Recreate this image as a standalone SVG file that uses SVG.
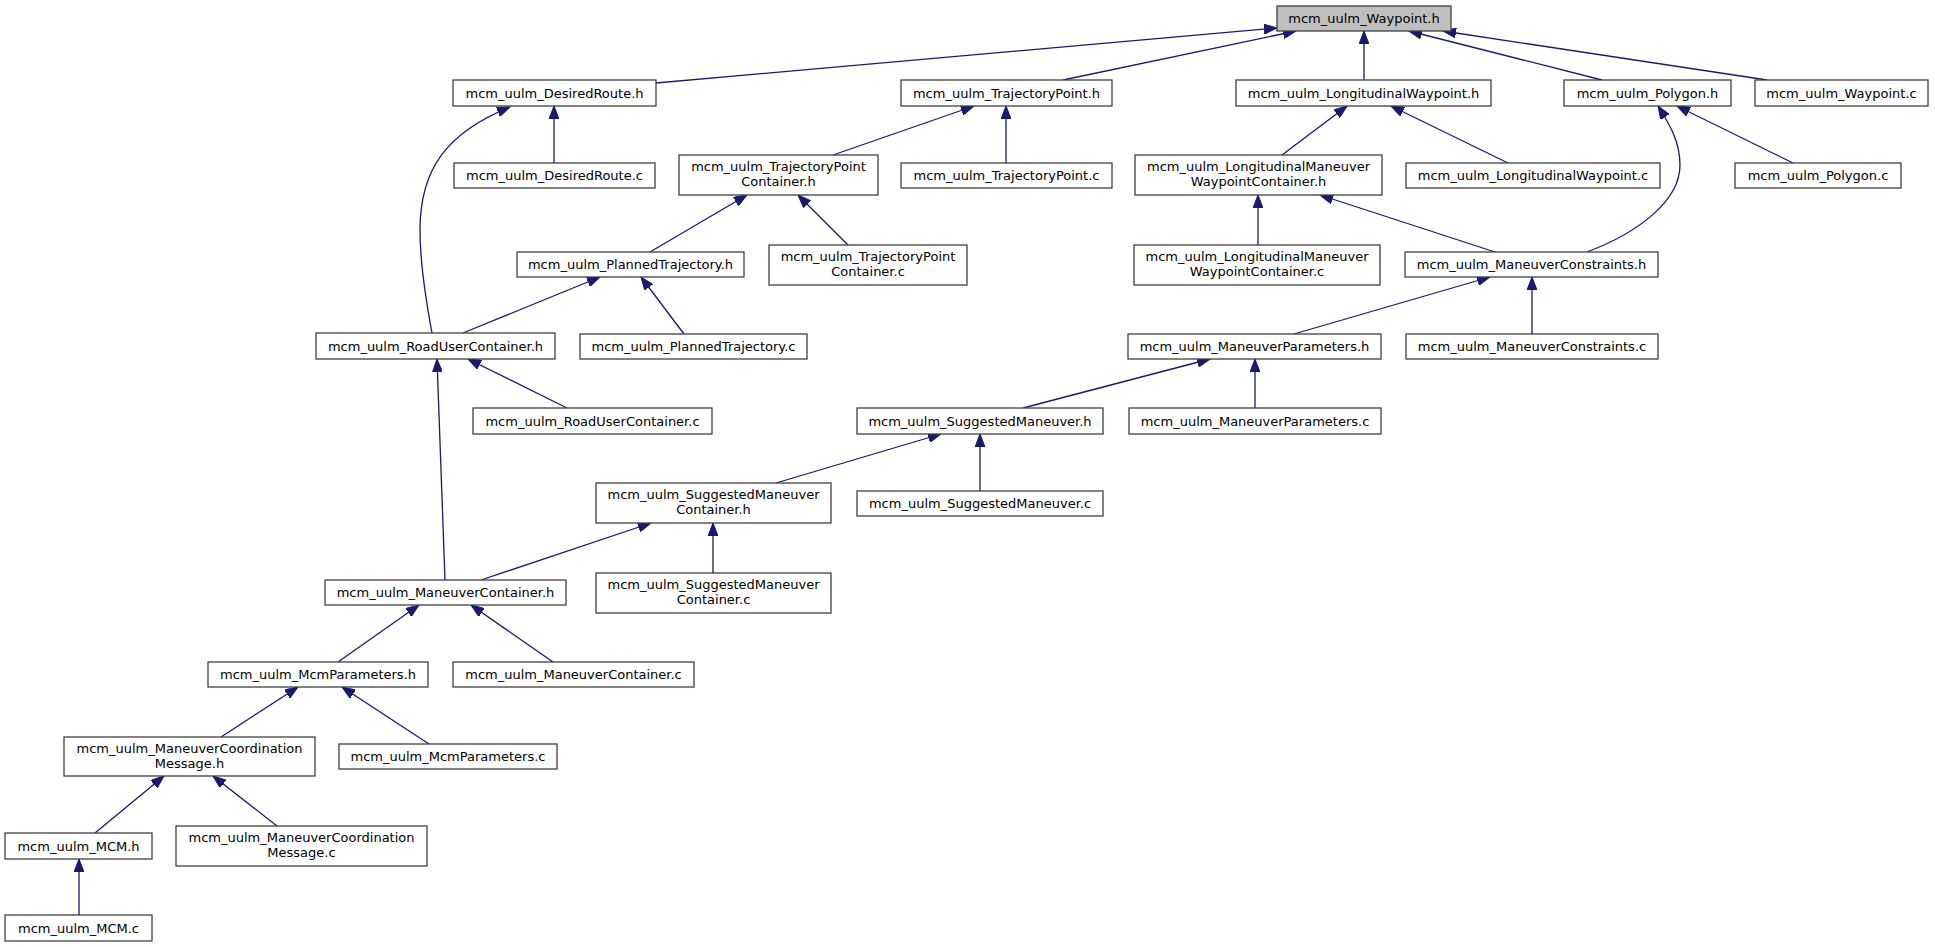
<svg xmlns="http://www.w3.org/2000/svg" width="1935" height="947" viewBox="0 0 1935 947">
<style>
.n rect{fill:#ffffff;stroke:#404040;stroke-width:1.3}
.n.r rect{fill:#bfbfbf;stroke:#404040}
.n text{font-family:"DejaVu Sans",sans-serif;font-size:13px;text-anchor:middle;fill:#000000}
.e path{fill:none;stroke:#191970;stroke-width:1.3;marker-end:url(#a)}
</style>
<defs>
<marker id="a" markerUnits="userSpaceOnUse" markerWidth="14" markerHeight="10" refX="13" refY="5" orient="auto">
<path d="M0,0 L13,5 L0,10 z" fill="#191970" stroke="#191970" stroke-width="1"/>
</marker>
</defs>
<rect width="1935" height="947" fill="#ffffff"/>
<g class="e" id="edges">
<path d="M656,83 L1277,28"/>
<path d="M1063,80 L1296,31"/>
<path d="M1364,80 L1364,31"/>
<path d="M1602,80 L1409,31"/>
<path d="M1767,80 L1443,31"/>
<path d="M554,163 L554,106"/>
<path d="M432,333 C424,290 420,260 420,230 C420,168 448,132 510,107"/>
<path d="M833,155 L974,106"/>
<path d="M1006,163 L1006,106"/>
<path d="M1282,155 L1347,106"/>
<path d="M1508,163 L1391,106"/>
<path d="M1587,252 C1640,232 1680,200 1680,165 C1680,142 1670,125 1658,106"/>
<path d="M1793,163 L1677,106"/>
<path d="M650,252 L747,195"/>
<path d="M848,245 L798,195"/>
<path d="M1258,245 L1258,195"/>
<path d="M1495,252 L1320,195"/>
<path d="M463,333 L600,277"/>
<path d="M684,334 L641,277"/>
<path d="M1294,334 L1490,277"/>
<path d="M1532,334 L1532,277"/>
<path d="M567,408 L468,359"/>
<path d="M445,580 L437,359"/>
<path d="M1023,408 L1210,359"/>
<path d="M1255,408 L1255,359"/>
<path d="M776,483 L941,434"/>
<path d="M980,491 L980,434"/>
<path d="M481,580 L651,523"/>
<path d="M713,573 L713,523"/>
<path d="M338,662 L419,605"/>
<path d="M553,662 L471,605"/>
<path d="M221,737 L298,687"/>
<path d="M429,744 L342,687"/>
<path d="M95,833 L164,776"/>
<path d="M277,826 L213,776"/>
<path d="M79,915 L79,859"/>
</g>
<g class="n r" id="n1"><rect x="1277" y="6" width="174" height="25"/><text x="1364" y="23">mcm_uulm_Waypoint.h</text></g>
<g class="n" id="n2"><rect x="453" y="80" width="203" height="26"/><text x="554.5" y="97.5">mcm_uulm_DesiredRoute.h</text></g>
<g class="n" id="n3"><rect x="901" y="80" width="211" height="26"/><text x="1006.5" y="97.5">mcm_uulm_TrajectoryPoint.h</text></g>
<g class="n" id="n4"><rect x="1236" y="80" width="255" height="26"/><text x="1363.5" y="97.5">mcm_uulm_LongitudinalWaypoint.h</text></g>
<g class="n" id="n5"><rect x="1564" y="80" width="167" height="26"/><text x="1647.5" y="97.5">mcm_uulm_Polygon.h</text></g>
<g class="n" id="n6"><rect x="1755" y="80" width="173" height="26"/><text x="1841.5" y="97.5">mcm_uulm_Waypoint.c</text></g>
<g class="n" id="n7"><rect x="454" y="163" width="201" height="25"/><text x="554.5" y="180">mcm_uulm_DesiredRoute.c</text></g>
<g class="n" id="n8"><rect x="679" y="155" width="199" height="40"/><text x="778.5" y="171">mcm_uulm_TrajectoryPoint</text><text x="778.5" y="186">Container.h</text></g>
<g class="n" id="n9"><rect x="901" y="163" width="211" height="25"/><text x="1006.5" y="180">mcm_uulm_TrajectoryPoint.c</text></g>
<g class="n" id="n10"><rect x="1135" y="155" width="247" height="40"/><text x="1258.5" y="171">mcm_uulm_LongitudinalManeuver</text><text x="1258.5" y="186">WaypointContainer.h</text></g>
<g class="n" id="n11"><rect x="1406" y="163" width="254" height="25"/><text x="1533" y="180">mcm_uulm_LongitudinalWaypoint.c</text></g>
<g class="n" id="n12"><rect x="1735" y="163" width="166" height="25"/><text x="1818" y="180">mcm_uulm_Polygon.c</text></g>
<g class="n" id="n13"><rect x="517" y="252" width="227" height="25"/><text x="630.5" y="269">mcm_uulm_PlannedTrajectory.h</text></g>
<g class="n" id="n14"><rect x="769" y="245" width="198" height="40"/><text x="868" y="261">mcm_uulm_TrajectoryPoint</text><text x="868" y="276">Container.c</text></g>
<g class="n" id="n15"><rect x="1134" y="245" width="246" height="40"/><text x="1257" y="261">mcm_uulm_LongitudinalManeuver</text><text x="1257" y="276">WaypointContainer.c</text></g>
<g class="n" id="n16"><rect x="1405" y="252" width="253" height="25"/><text x="1531.5" y="269">mcm_uulm_ManeuverConstraints.h</text></g>
<g class="n" id="n17"><rect x="316" y="333" width="239" height="26"/><text x="435.5" y="350.5">mcm_uulm_RoadUserContainer.h</text></g>
<g class="n" id="n18"><rect x="580" y="334" width="227" height="25"/><text x="693.5" y="351">mcm_uulm_PlannedTrajectory.c</text></g>
<g class="n" id="n19"><rect x="1128" y="334" width="253" height="25"/><text x="1254.5" y="351">mcm_uulm_ManeuverParameters.h</text></g>
<g class="n" id="n20"><rect x="1406" y="334" width="252" height="25"/><text x="1532" y="351">mcm_uulm_ManeuverConstraints.c</text></g>
<g class="n" id="n21"><rect x="473" y="408" width="239" height="26"/><text x="592.5" y="425.5">mcm_uulm_RoadUserContainer.c</text></g>
<g class="n" id="n22"><rect x="857" y="408" width="246" height="26"/><text x="980" y="425.5">mcm_uulm_SuggestedManeuver.h</text></g>
<g class="n" id="n23"><rect x="1129" y="408" width="252" height="26"/><text x="1255" y="425.5">mcm_uulm_ManeuverParameters.c</text></g>
<g class="n" id="n24"><rect x="596" y="483" width="235" height="40"/><text x="713.5" y="499">mcm_uulm_SuggestedManeuver</text><text x="713.5" y="514">Container.h</text></g>
<g class="n" id="n25"><rect x="857" y="491" width="246" height="25"/><text x="980" y="508">mcm_uulm_SuggestedManeuver.c</text></g>
<g class="n" id="n26"><rect x="596" y="573" width="235" height="40"/><text x="713.5" y="589">mcm_uulm_SuggestedManeuver</text><text x="713.5" y="604">Container.c</text></g>
<g class="n" id="n27"><rect x="325" y="580" width="241" height="25"/><text x="445.5" y="597">mcm_uulm_ManeuverContainer.h</text></g>
<g class="n" id="n28"><rect x="208" y="662" width="220" height="25"/><text x="318" y="679">mcm_uulm_McmParameters.h</text></g>
<g class="n" id="n29"><rect x="453" y="662" width="241" height="25"/><text x="573.5" y="679">mcm_uulm_ManeuverContainer.c</text></g>
<g class="n" id="n30"><rect x="64" y="737" width="251" height="39"/><text x="189.5" y="752.5">mcm_uulm_ManeuverCoordination</text><text x="189.5" y="767.5">Message.h</text></g>
<g class="n" id="n31"><rect x="339" y="744" width="218" height="25"/><text x="448" y="761">mcm_uulm_McmParameters.c</text></g>
<g class="n" id="n32"><rect x="5" y="833" width="147" height="26"/><text x="78.5" y="850.5">mcm_uulm_MCM.h</text></g>
<g class="n" id="n33"><rect x="176" y="826" width="251" height="40"/><text x="301.5" y="842">mcm_uulm_ManeuverCoordination</text><text x="301.5" y="857">Message.c</text></g>
<g class="n" id="n34"><rect x="5" y="915" width="147" height="26"/><text x="78.5" y="932.5">mcm_uulm_MCM.c</text></g>
</svg>
